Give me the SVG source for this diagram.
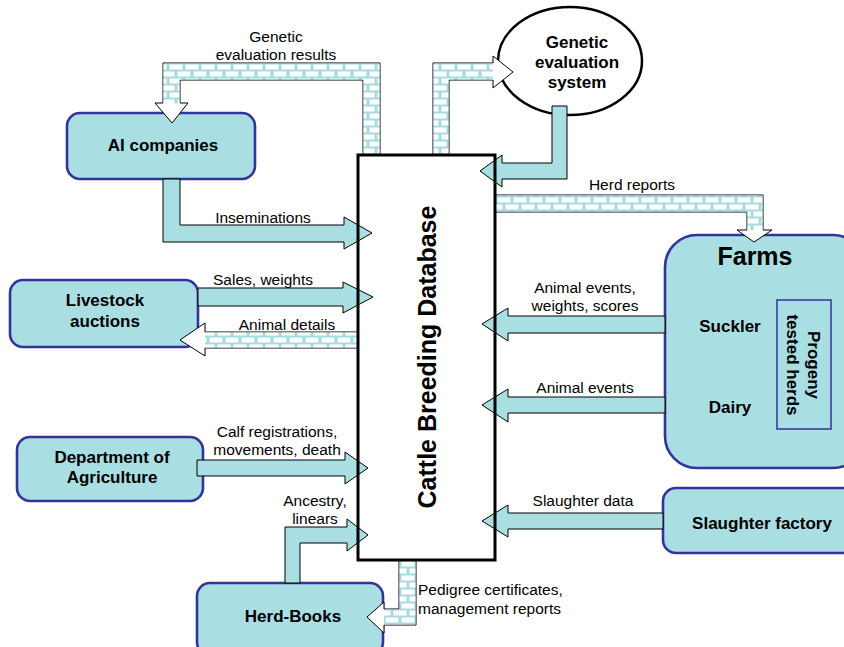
<svg xmlns="http://www.w3.org/2000/svg" width="844" height="647" viewBox="0 0 844 647">
<style>
.node{fill:#a9dee2;stroke:#33339a;stroke-width:2.6}
.solid{fill:#a9dee2;stroke:#000;stroke-width:1}
.head{fill:#fff;stroke:#000;stroke-width:1}
.brick{fill:url(#brick);stroke:none}
.lbl{font-family:"Liberation Sans",Arial,sans-serif;font-size:15.5px;fill:#000;text-anchor:middle}
.nl{font-family:"Liberation Sans",Arial,sans-serif;font-size:17px;font-weight:bold;fill:#000;text-anchor:middle}
</style>
<defs>
<pattern id="brick" width="16" height="14" patternUnits="userSpaceOnUse">
<rect width="16" height="14" fill="#a6dce0"/>
<rect x="1.5" y="1.5" width="13" height="5" fill="#fff"/>
<rect x="-6.5" y="8.5" width="13" height="5" fill="#fff"/>
<rect x="9.5" y="8.5" width="13" height="5" fill="#fff"/>
</pattern>
</defs>
<rect width="844" height="647" fill="#fff"/>

<g id="ai-companies">
<rect class="node" x="67" y="113" width="188" height="66" rx="13"/>
<text class="nl" x="163" y="151">AI companies</text>
</g>
<g id="livestock-auctions">
<rect class="node" x="10" y="280" width="188" height="67" rx="13"/>
<text class="nl" x="105" y="306">Livestock</text>
<text class="nl" x="105" y="327">auctions</text>
</g>
<g id="department-of-agriculture">
<rect class="node" x="17" y="437" width="186" height="64" rx="13"/>
<text class="nl" x="112" y="463">Department of</text>
<text class="nl" x="112" y="483">Agriculture</text>
</g>
<g id="herd-books">
<rect class="node" x="197" y="583" width="186" height="72" rx="13"/>
<text class="nl" x="293" y="622">Herd-Books</text>
</g>
<g id="genetic-evaluation-system">
<ellipse cx="570" cy="61" rx="72" ry="54" fill="#fff" stroke="#000" stroke-width="2.5"/>
<text class="nl" x="577" y="48">Genetic</text>
<text class="nl" x="577" y="68">evaluation</text>
<text class="nl" x="577" y="88">system</text>
</g>
<g id="farms">
<rect class="node" x="665" y="235" width="200" height="233" rx="32"/>
<text class="nl" x="755" y="265" style="font-size:25px">Farms</text>
<text class="nl" x="730" y="332">Suckler</text>
<text class="nl" x="730" y="413">Dairy</text>
<rect x="777" y="300" width="54" height="129" fill="none" stroke="#33339a" stroke-width="1.5"/>
<text class="nl" transform="translate(808,365) rotate(90)">Progeny</text>
<text class="nl" transform="translate(787,365) rotate(90)">tested herds</text>
</g>
<g id="slaughter-factory">
<rect class="node" x="663" y="488" width="200" height="65" rx="13"/>
<text class="nl" x="762" y="529">Slaughter factory</text>
</g>
<g id="cattle-breeding-database">
<rect x="358" y="155" width="137" height="405" fill="#fff"/>
</g>

<g id="connectors">
<!-- Genetic evaluation results -->
<path class="head" d="M363,155 V80 H180 V103 H188 L172,123 L155,103 H163 V63 H380 V155 Z"/>
<path class="brick" d="M363.5,155 V79.5 H179.5 V103.5 H163.5 V63.5 H379.5 V155 Z"/>
<!-- to Genetic evaluation system -->
<path class="head" d="M433,155 V63 H493 V56 L513,72 L493,88 V80 H449 V155 Z"/>
<path class="brick" d="M433.5,155 V63.5 H493 V79.5 H448.5 V155 Z"/>
<!-- from Genetic evaluation system -->
<path class="solid" d="M552,106 V163 H502 V155 L480,171 L502,187 V179 H567 V106 Z"/>
<!-- Herd reports -->
<path class="head" d="M495,195 H763 V230 H772 L754,242 L737,230 H747 V212 H495 Z"/>
<path class="brick" d="M495,195.5 H762.5 V230 H747.5 V211.5 H495 Z"/>
<!-- Inseminations -->
<path class="solid" d="M163,179 V242 H344 V249 L372,233 L344,217 V225 H180 V179 Z"/>
<!-- Sales, weights -->
<path class="solid" d="M198,288 H343 V282 L373,297 L343,313 V306 H198 Z"/>
<!-- Animal details -->
<path class="head" d="M358,332 H205 V323 L180,340 L205,356 V348 H358 Z"/>
<rect class="brick" x="205" y="332.5" width="153" height="15"/>
<!-- Calf registrations -->
<path class="solid" d="M197,460 H345 V452 L368,468 L345,484 V476 H197 Z"/>
<!-- Ancestry, linears -->
<path class="solid" d="M285,583 V527 H347 V519 L368,535 L347,551 V543 H300 V583 Z"/>
<!-- Pedigree certificates -->
<path class="head" d="M399,561 V609 H384 V602 L367,617 L384,633 V625 H416 V561 Z"/>
<path class="brick" d="M399.5,561 V609.5 H384 V624.5 H415.5 V561 Z"/>
<!-- Animal events, weights, scores -->
<path class="solid" d="M665,316 H508 V308 L482,324 L508,341 V333 H665 Z"/>
<!-- Animal events -->
<path class="solid" d="M665,397 H508 V389 L482,405 L508,422 V413 H665 Z"/>
<!-- Slaughter data -->
<path class="solid" d="M663,513 H508 V505 L482,521 L508,537 V529 H663 Z"/>
</g>

<g id="cattle-breeding-database-frame">
<rect x="358" y="155" width="137" height="405" fill="none" stroke="#000" stroke-width="3"/>
<text class="nl" transform="translate(436,357) rotate(-90)" style="font-size:25px">Cattle Breeding Database</text>
</g>

<g id="labels">
<text class="lbl" x="276" y="42">Genetic</text>
<text class="lbl" x="276" y="60">evaluation results</text>
<text class="lbl" x="632" y="190">Herd reports</text>
<text class="lbl" x="263" y="223">Inseminations</text>
<text class="lbl" x="263" y="285">Sales, weights</text>
<text class="lbl" x="287" y="330">Animal details</text>
<text class="lbl" x="277" y="437">Calf registrations,</text>
<text class="lbl" x="277" y="455">movements, death</text>
<text class="lbl" x="315" y="506">Ancestry,</text>
<text class="lbl" x="315" y="524">linears</text>
<text class="lbl" x="418" y="595" style="text-anchor:start">Pedigree certificates,</text>
<text class="lbl" x="418" y="614" style="text-anchor:start">management reports</text>
<text class="lbl" x="585" y="293">Animal events,</text>
<text class="lbl" x="585" y="311">weights, scores</text>
<text class="lbl" x="585" y="393">Animal events</text>
<text class="lbl" x="583" y="506">Slaughter data</text>
</g>
</svg>
